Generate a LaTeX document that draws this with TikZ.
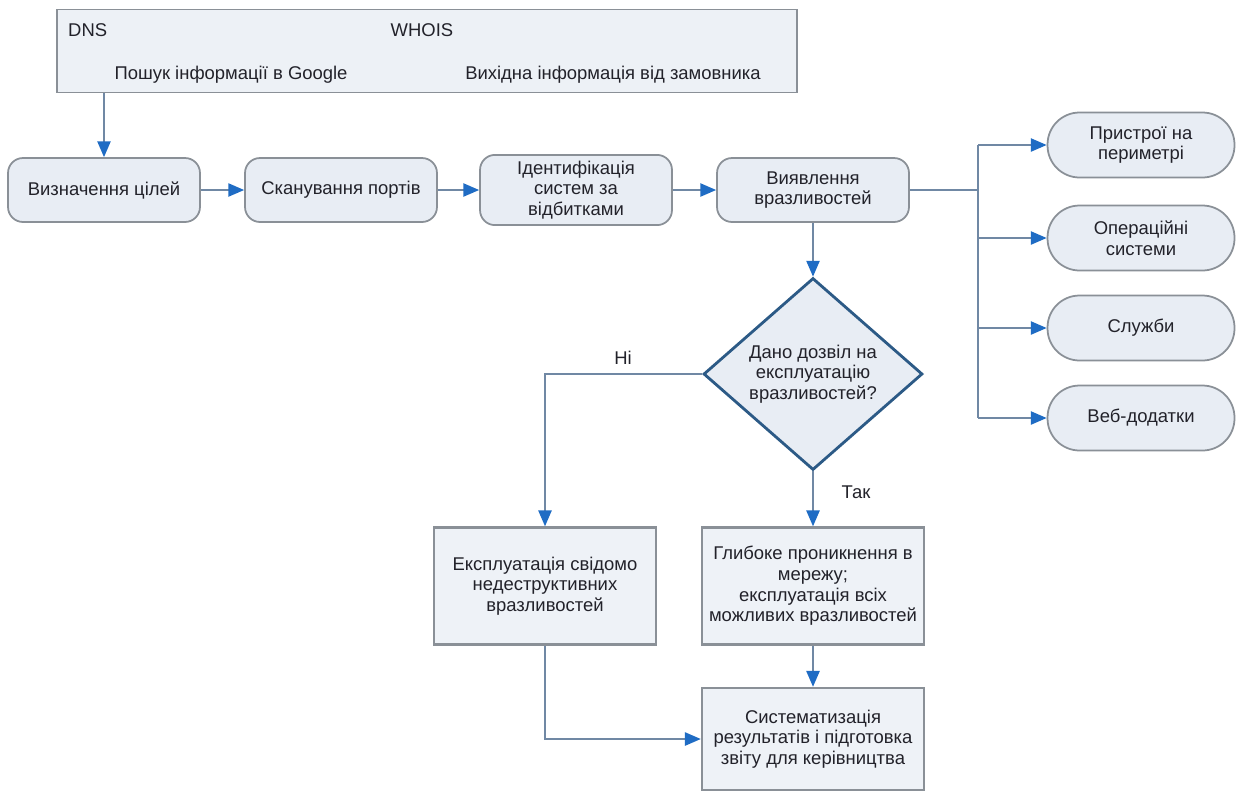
\documentclass[tikz,border=0pt]{standalone}
\usepackage{fontspec}
\setmainfont{Liberation Sans}
\usetikzlibrary{arrows.meta,shapes.geometric}
\definecolor{boxfill}{HTML}{E8EDF4}
\definecolor{boxline}{HTML}{8A9097}
\definecolor{linkline}{HTML}{7088A4}
\definecolor{tipblue}{HTML}{1F6CC4}
\definecolor{askline}{HTML}{2C5A86}
\definecolor{txt}{HTML}{22222A}
\begin{document}
\begin{tikzpicture}[x=0.02cm,y=-0.02cm,
                every node/.style={font=\fontsize{10.5}{11.8}\selectfont, text=txt, align=center},
                stage/.style={draw=boxline, fill=boxfill, line width=1pt, rounded corners=0.3cm,
                    minimum width=3.84cm, minimum height=1.28cm},
                target/.style={draw=boxline, fill=boxfill, line width=1pt, rounded corners=0.64cm,
                    minimum width=3.74cm, minimum height=1.3cm},
                panel/.style={draw=boxline, fill=boxfill!75!white, line width=1.4pt,
                    minimum width=4.44cm, minimum height=2.34cm},
                link/.style={draw=linkline, line width=1pt, -{Triangle[length=9pt,width=7.5pt,color=tipblue]}},
                wire/.style={draw=linkline, line width=1pt}]
                \fill[white] (0,0) rectangle (1243,802);
                \useasboundingbox (0,0) rectangle (1243,802);

                \node[draw=boxline, fill=boxfill!80!white, line width=1pt,
                    minimum width=14.8cm, minimum height=1.66cm] (sources) at (427,51) {};
                \node[anchor=west] (dns) at (62,30) {DNS};
                \node[] (whois) at (422,30) {WHOIS};
                \node[] (google) at (231,75) {Пошук інформації в Google};
                \node[] (client) at (613,75) {Вихідна інформація від замовника};

                \node[stage] (goal) at (104,190) {Визначення цілей};
                \node[stage] (ports) at (341,190) {Сканування портів};
                \node[stage] (finger) at (576,190) {Ідентифікація\\систем за\\відбитками};
                \node[stage] (vuln) at (813,190) {Виявлення\\вразливостей};

                \node[target] (device) at (1141,145) {Пристрої на\\периметрі};
                \node[target] (os) at (1141,238) {Операційні\\системи};
                \node[target] (service) at (1141,328) {Служби};
                \node[target] (webapp) at (1141,418) {Веб-додатки};
                \coordinate (bus) at (978,190);

                \node[draw=askline, fill=boxfill, line width=1.6pt, diamond, inner sep=0pt,
                    minimum width=4.38cm, minimum height=3.84cm] (ask) at (813,374)
                    {Дано дозвіл на\\експлуатацію\\вразливостей?};
                \node[] (no) at (623,358) {Ні};
                \node[] (yes) at (856,492) {Так};

                \node[panel] (safe) at (545,586) {Експлуатація свідомо\\недеструктивних\\вразливостей};
                \node[panel] (deep) at (813,586) {Глибоке проникнення в\\мережу;\\експлуатація всіх\\можливих вразливостей};
                \node[panel, minimum height=2.04cm] (report) at (813,739)
                    {Систематизація\\результатів і підготовка\\звіту для керівництва};

                \draw[link] (goal.north |- sources.south) -- (goal.north);
                \draw[link] (goal) -- (ports);
                \draw[link] (ports) -- (finger);
                \draw[link] (finger) -- (vuln);

                \draw[wire] (vuln.east) -- (bus);
                \draw[wire] (bus |- device.west) -- (bus |- webapp.west);
                \draw[link] (bus |- device.west) -- (device.west);
                \draw[link] (bus |- os.west) -- (os.west);
                \draw[link] (bus |- service.west) -- (service.west);
                \draw[link] (bus |- webapp.west) -- (webapp.west);

                \draw[link] (vuln.south) -- (ask.north);
                \draw[link] (ask.west) -| (safe.north);
                \draw[link] (ask.south) -- (deep.north);
                \draw[link] (deep.south) -- (report.north);
                \draw[link] (safe.south) |- (report.west);
            \end{tikzpicture}
\end{document}
